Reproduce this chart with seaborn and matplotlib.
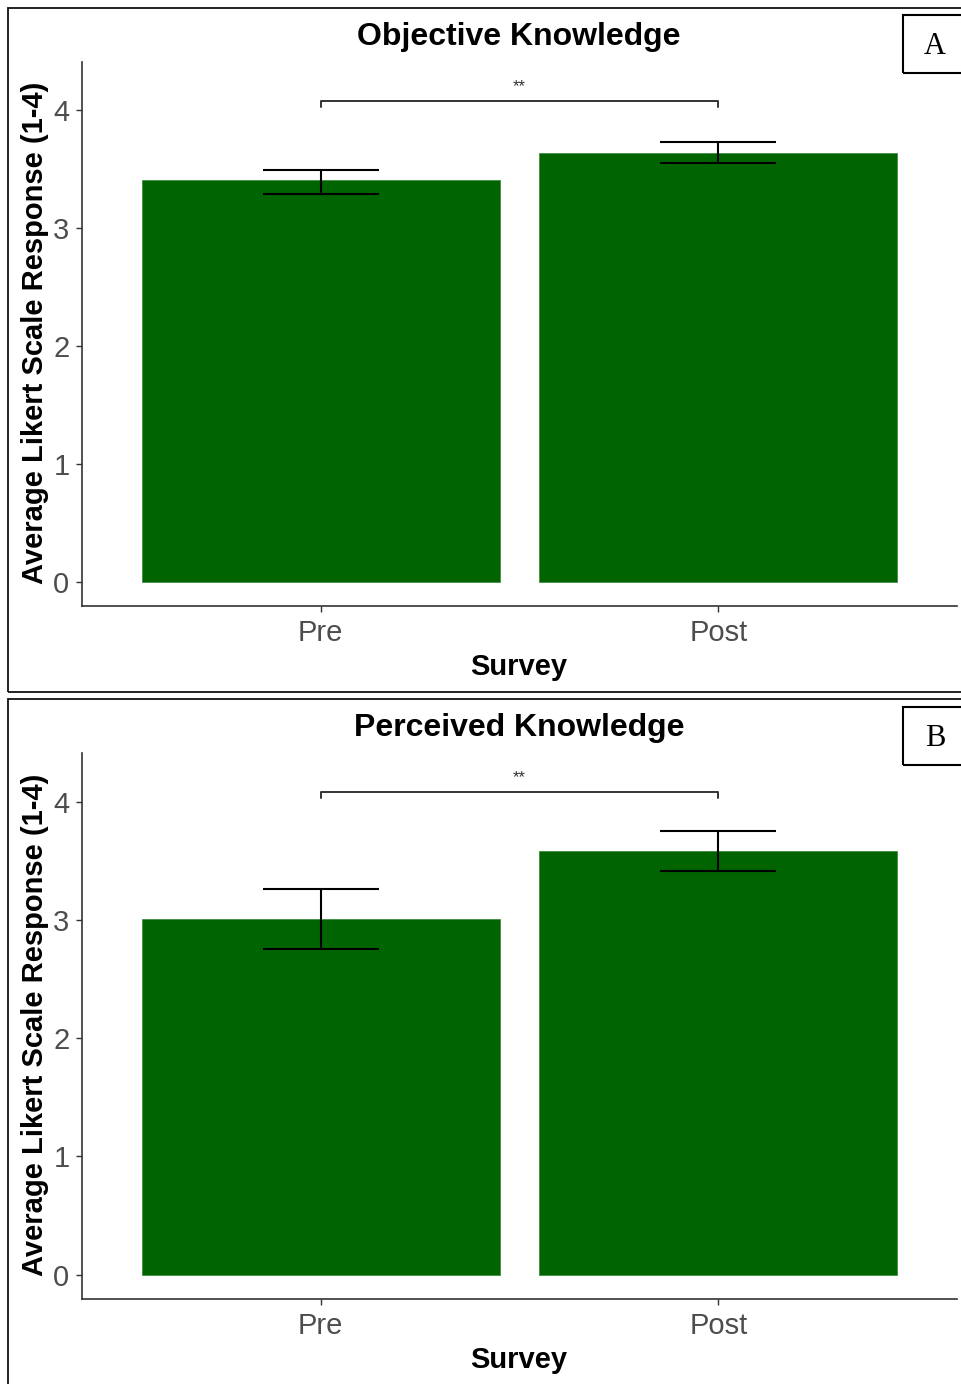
import numpy as np
import pandas as pd
import matplotlib
matplotlib.use("Agg")
import matplotlib.pyplot as plt
import matplotlib.patches as mpatches
import seaborn as sns

sns.set_style("white")
plt.rcParams['font.family'] = ['Liberation Sans', 'DejaVu Sans']

# data
surveys = ["Pre", "Post"]
obj_mean = [3.41, 3.64]
obj_lo = [3.29, 3.55]
obj_hi = [3.49, 3.73]
perc_mean = [3.01, 3.58]
perc_lo = [2.75, 3.41]
perc_hi = [3.26, 3.75]
titles = ["Objective Knowledge", "Perceived Knowledge"]
panel_tags = ["A", "B"]
sig_label = "**"
sig_y = 4.08

W, H = 961, 1384
fig = plt.figure(figsize=(W / 100, H / 100), dpi=100)

def fx(px):
    return px / W

def fy(py):
    return 1 - py / H

# panel geometry in pixels
panels = [
    dict(top=8, bot=692, ax_top=62, ax_bot=606, tag_top=15),
    dict(top=699, bot=1400, ax_top=753, ax_bot=1299, tag_top=707),
]
series = [(obj_mean, obj_lo, obj_hi), (perc_mean, perc_lo, perc_hi)]
grey = "#4d4d4d"

for i, p in enumerate(panels):
    mean, lo, hi = series[i]
    df = pd.DataFrame({"Survey": surveys, "Mean": mean, "lo": lo, "hi": hi})

    # outer frame
    fig.patches.append(mpatches.Rectangle((fx(8), fy(p['bot'])), fx(W), fy(p['top']) - fy(p['bot']),
                                          transform=fig.transFigure, fill=False, ec="#111111", lw=1.3))

    ax = fig.add_axes([fx(82), fy(p['ax_bot']), fx(957 - 82), fy(p['ax_top']) - fy(p['ax_bot'])])
    sns.barplot(data=df, x="Survey", y="Mean", order=surveys, color="#006400", width=0.9,
                errorbar=None, saturation=1, edgecolor="#3f8f3f", linewidth=0.6, ax=ax)
    xs = np.arange(len(surveys))
    ax.errorbar(xs, df["Mean"], yerr=[df["Mean"] - df["lo"], df["hi"] - df["Mean"]],
                fmt="none", ecolor="black", elinewidth=1.5, capsize=42, capthick=1.5)

    # significance bracket
    ax.plot([0, 0, 1, 1], [sig_y - 0.05, sig_y, sig_y, sig_y - 0.05], color="#333333", lw=1.4)
    ax.text(0.5, sig_y + 0.06, sig_label, ha="center", va="bottom", fontsize=12, color="#333333")

    ax.set_xlim(-0.6, 1.6)
    ax.set_ylim(-0.205, 4.41)
    ax.set_yticks([0, 1, 2, 3, 4])
    ax.set_xlabel("")
    ax.set_ylabel("")
    for s in ["top", "right"]:
        ax.spines[s].set_visible(False)
    for s in ["left", "bottom"]:
        ax.spines[s].set_color("#333333")
        ax.spines[s].set_linewidth(1.2)
    ax.tick_params(axis="both", which="both", length=4, width=1.0, color="#333333",
                   labelsize=21, labelcolor=grey, left=True, bottom=True, pad=5)

    # texts
    fig.text(fx(519), fy(p['top'] + 29), titles[i], ha="center", va="center",
             fontsize=23, fontweight="bold", color="black")
    fig.text(fx(519), fy(p['ax_bot'] + 61), "Survey", ha="center", va="center",
             fontsize=21, fontweight="bold", color="black")
    fig.text(fx(35), fy((p['ax_top'] + p['ax_bot']) / 2 - 1), "Average Likert Scale Response (1-4)",
             ha="center", va="center", rotation=90, fontsize=21, fontweight="bold", color="black")

    # panel tag box
    t = p['tag_top']
    fig.patches.append(mpatches.Rectangle((fx(903), fy(t + 58)), fx(80), fy(t) - fy(t + 58),
                                          transform=fig.transFigure, fill=False, ec="black", lw=1.5))
    fig.text(fx(935), fy(t + 31), panel_tags[i], ha="center", va="center", fontsize=22,
             color="black", family=["Liberation Serif", "DejaVu Serif"])

fig.savefig("out.png", dpi=100)
